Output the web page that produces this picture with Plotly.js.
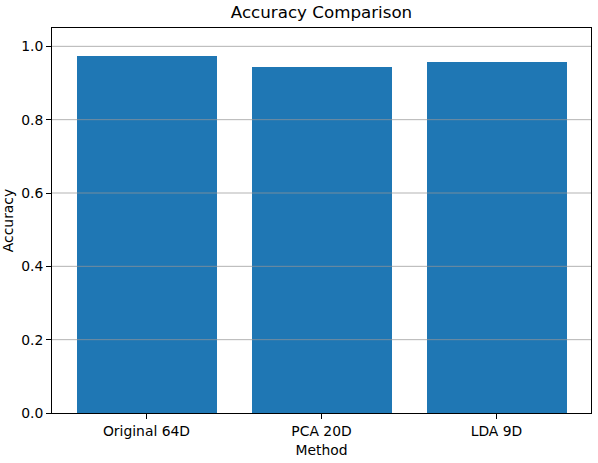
<!DOCTYPE html>
<html><head><meta charset="utf-8">
<script src="https://cdn.plot.ly/plotly-3.0.1.min.js"></script>
<style>html,body{margin:0;padding:0;background:#fff;}#chart{width:598px;height:463px;}</style>
</head><body><div id="chart"></div>
<script>
const methods = ["Original 64D", "PCA 20D", "LDA 9D"];
const accuracy = [0.974, 0.943, 0.957];
const yTicks = [0.0, 0.2, 0.4, 0.6, 0.8, 1.0];
const yTickLabels = ["0.0", "0.2", "0.4", "0.6", "0.8", "1.0"];

const xIdx = methods.map((m, i) => i);
const gridShapes = yTicks.filter(v => v > 0).map(v => ({
  type: 'line', xref: 'paper', yref: 'y', x0: 0, x1: 1, y0: v, y1: v,
  line: {color: 'rgba(150,150,150,0.72)', width: 1}, layer: 'above'
}));

const data = [{
  type: 'bar', x: xIdx, y: accuracy, width: 0.8,
  marker: {color: '#1f77b4', line: {width: 0}},
  hoverinfo: 'x+y'
}];

const font = {family: 'DejaVu Sans, sans-serif', size: 13.9, color: '#000'};
const layout = {
  width: 598, height: 463,
  margin: {l: 52, r: 7, t: 28, b: 50},
  paper_bgcolor: '#fff', plot_bgcolor: '#fff',
  font: font,
  showlegend: false,
  bargap: 0,
  title: {text: 'Accuracy Comparison', font: {family: 'DejaVu Sans, sans-serif', size: 16.7, color: '#000'}, x: 0.5, xref: 'paper', y: 1, yref: 'container', yanchor: 'top', pad: {t: 6}},
  xaxis: {
    range: [-0.54, 2.54], tickmode: 'array', tickvals: xIdx, ticktext: methods,
    showgrid: false, zeroline: false, showline: true, linecolor: '#000', linewidth: 1, mirror: true,
    ticks: 'outside', ticklen: 5, tickwidth: 1, tickcolor: '#000',
    title: {text: 'Method', font: font, standoff: 7},
    tickfont: font
  },
  yaxis: {
    range: [0, 1.05], tickmode: 'array', tickvals: yTicks, ticktext: yTickLabels,
    showgrid: false, zeroline: false, showline: true, linecolor: '#000', linewidth: 1, mirror: true,
    ticks: 'outside', ticklen: 5, tickwidth: 1, tickcolor: '#000',
    title: {text: 'Accuracy', font: font, standoff: 6},
    tickfont: font
  },
  shapes: gridShapes
};
Plotly.newPlot('chart', data, layout, {displayModeBar: false, staticPlot: true});
</script></body></html>
